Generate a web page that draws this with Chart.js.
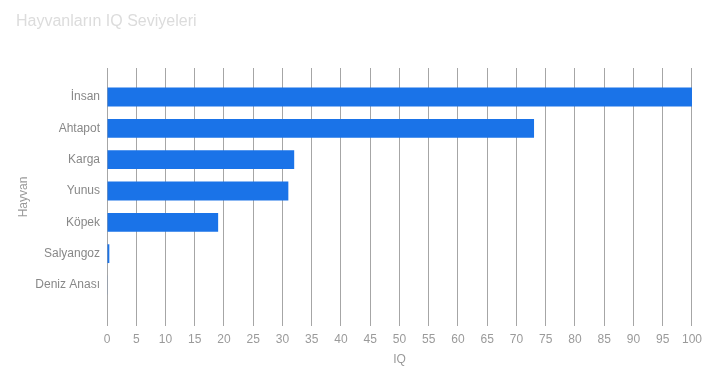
<!DOCTYPE html>
<html>
<head>
<meta charset="utf-8">
<script src="https://cdn.jsdelivr.net/npm/chart.js@4/dist/chart.umd.min.js"></script>
<style>
  html, body { margin: 0; padding: 0; background: #fff; }
  #wrap { width: 708px; height: 380px; }
</style>
</head>
<body>
<div id="wrap"><canvas id="c" width="708" height="380"></canvas></div>
<script>
const chartTitle = "Hayvanların IQ Seviyeleri";
const animals = ["İnsan", "Ahtapot", "Karga", "Yunus", "Köpek", "Salyangoz", "Deniz Anası"];
const iqValues = [100, 73, 32, 31, 19, 0.4, 0.1];
const xTicks = [0, 5, 10, 15, 20, 25, 30, 35, 40, 45, 50, 55, 60, 65, 70, 75, 80, 85, 90, 95, 100];
const xTitle = "IQ";
const yTitle = "Hayvan";

const FONT = "'Liberation Sans', Arial, Helvetica, sans-serif";

new Chart(document.getElementById('c'), {
  type: 'bar',
  data: {
    datasets: [{
      data: iqValues.map((v, i) => ({ x: v, y: i })),
      backgroundColor: '#1a73e8',
      borderWidth: 0,
      barPercentage: 0.6,
      categoryPercentage: 1
    }]
  },
  options: {
    indexAxis: 'y',
    responsive: false,
    animation: false,
    layout: { padding: { left: 16, right: 16, top: 0, bottom: 0 } },
    plugins: {
      legend: { display: false },
      tooltip: { enabled: false },
      title: {
        display: true,
        text: chartTitle,
        align: 'start',
        color: '#dcdcdc',
        font: { family: FONT, size: 16, weight: 'normal' },
        padding: { top: 12, bottom: 36.8 }
      }
    },
    scales: {
      x: {
        type: 'linear',
        min: 0,
        max: 100,
        afterBuildTicks: s => { s.ticks = xTicks.map(v => ({ value: v })); },
        afterFit: s => { s.height = 54; },
        grid: { color: '#a6a6a6', lineWidth: 1, drawTicks: false },
        border: { display: false },
        ticks: {
          autoSkip: false,
          maxRotation: 0,
          padding: 6,
          color: '#9a9a9a',
          font: { family: FONT, size: 12 }
        },
        title: {
          display: true,
          text: xTitle,
          color: '#9a9a9a',
          font: { family: FONT, size: 12 },
          padding: { top: 0, bottom: 12.8 }
        }
      },
      y: {
        type: 'linear',
        reverse: true,
        offset: false,
        min: -0.926,
        max: 7.309,
        afterBuildTicks: s => { s.ticks = animals.map((_, i) => ({ value: i })); },
        afterFit: s => { s.width = 91; },
        grid: { display: false, drawTicks: false, offset: false },
        border: { display: false },
        ticks: {
          padding: 7,
          color: '#888888',
          font: { family: FONT, size: 12 },
          callback: v => animals[v]
        },
        title: {
          display: true,
          text: yTitle,
          color: '#999999',
          font: { family: FONT, size: 12 },
          padding: { top: 0, bottom: 0 }
        }
      }
    }
  }
});
</script>
</body>
</html>
